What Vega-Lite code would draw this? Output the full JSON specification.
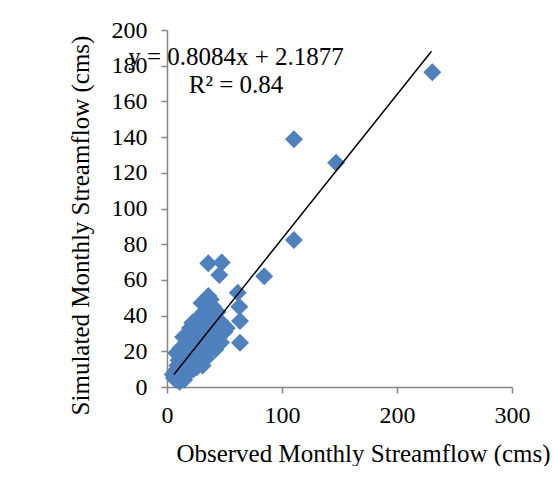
{
  "$schema": "https://vega.github.io/schema/vega-lite/v6.json",
  "width": 345,
  "height": 357,
  "padding": {"left": 68, "top": 18, "right": 0, "bottom": 0},
  "background": "white",
  "config": {
    "view": {"stroke": null},
    "font": "Liberation Serif",
    "axis": {
      "grid": false,
      "domainColor": "#868686",
      "tickColor": "#868686",
      "domainWidth": 1.5,
      "tickWidth": 1.5,
      "tickSize": 6,
      "labelFont": "Liberation Serif",
      "labelFontSize": 24,
      "labelColor": "#000000",
      "titleFont": "Liberation Serif",
      "titleFontSize": 25,
      "titleFontWeight": "normal",
      "titleColor": "#000000"
    }
  },
  "datasets": {
    "points": [
      {"obs": 230.7, "sim": 176.3}, {"obs": 110.4, "sim": 138.8}, {"obs": 147, "sim": 125.7},
      {"obs": 110.4, "sim": 82.4}, {"obs": 84.5, "sim": 62}, {"obs": 35.9, "sim": 69.3},
      {"obs": 47.6, "sim": 69.8}, {"obs": 45.5, "sim": 62.7}, {"obs": 61.5, "sim": 52.8},
      {"obs": 62.9, "sim": 45}, {"obs": 63.5, "sim": 37}, {"obs": 63.5, "sim": 24.8},
      {"obs": 5, "sim": 7}, {"obs": 6, "sim": 5}, {"obs": 7, "sim": 9}, {"obs": 8, "sim": 4},
      {"obs": 8, "sim": 19}, {"obs": 9, "sim": 12}, {"obs": 9, "sim": 7}, {"obs": 10, "sim": 5},
      {"obs": 10, "sim": 15}, {"obs": 11, "sim": 3}, {"obs": 11, "sim": 9}, {"obs": 12, "sim": 17},
      {"obs": 12, "sim": 11}, {"obs": 13, "sim": 6}, {"obs": 13, "sim": 21}, {"obs": 14, "sim": 13},
      {"obs": 14, "sim": 8}, {"obs": 15, "sim": 18}, {"obs": 15, "sim": 4}, {"obs": 16, "sim": 24},
      {"obs": 16, "sim": 11}, {"obs": 17, "sim": 15}, {"obs": 17, "sim": 7}, {"obs": 18, "sim": 29},
      {"obs": 18, "sim": 19}, {"obs": 19, "sim": 12}, {"obs": 19, "sim": 22}, {"obs": 20, "sim": 9},
      {"obs": 20, "sim": 33}, {"obs": 21, "sim": 17}, {"obs": 21, "sim": 26}, {"obs": 22, "sim": 13},
      {"obs": 22, "sim": 30}, {"obs": 23, "sim": 20}, {"obs": 23, "sim": 10}, {"obs": 24, "sim": 35},
      {"obs": 24, "sim": 24}, {"obs": 25, "sim": 15}, {"obs": 25, "sim": 28}, {"obs": 26, "sim": 11},
      {"obs": 26, "sim": 32}, {"obs": 27, "sim": 19}, {"obs": 27, "sim": 37}, {"obs": 28, "sim": 23},
      {"obs": 28, "sim": 14}, {"obs": 29, "sim": 30}, {"obs": 29, "sim": 40}, {"obs": 30, "sim": 17},
      {"obs": 30, "sim": 26}, {"obs": 31, "sim": 34}, {"obs": 31, "sim": 12}, {"obs": 32, "sim": 21},
      {"obs": 32, "sim": 42}, {"obs": 33, "sim": 29}, {"obs": 33, "sim": 38}, {"obs": 34, "sim": 48},
      {"obs": 34, "sim": 16}, {"obs": 35, "sim": 25}, {"obs": 35, "sim": 33}, {"obs": 36, "sim": 44},
      {"obs": 36, "sim": 20}, {"obs": 37, "sim": 36}, {"obs": 37, "sim": 29}, {"obs": 38, "sim": 49},
      {"obs": 38, "sim": 41}, {"obs": 39, "sim": 23}, {"obs": 40, "sim": 32}, {"obs": 40, "sim": 45},
      {"obs": 41, "sim": 38}, {"obs": 42, "sim": 27}, {"obs": 42, "sim": 21}, {"obs": 43, "sim": 35},
      {"obs": 44, "sim": 42}, {"obs": 45, "sim": 30}, {"obs": 46, "sim": 37}, {"obs": 47, "sim": 25},
      {"obs": 48, "sim": 34}, {"obs": 50, "sim": 31}, {"obs": 52, "sim": 33}, {"obs": 14, "sim": 28},
      {"obs": 22, "sim": 36}, {"obs": 12, "sim": 22}, {"obs": 30, "sim": 47}, {"obs": 36, "sim": 51}
    ],
    "trend": [{"obs": 6, "sim": 7.04}, {"obs": 230, "sim": 188.12}],
    "labels": [
      {"obs": 60, "sim": 180.4, "text": "y = 0.8084x + 2.1877"},
      {"obs": 60, "sim": 164.7, "text": "R² = 0.84"}
    ]
  },
  "encoding": {
    "x": {
      "field": "obs", "type": "quantitative",
      "scale": {"domain": [0, 300], "nice": false, "zero": true},
      "axis": {
        "values": [0, 100, 200, 300],
        "title": "Observed Monthly Streamflow (cms)",
        "labelOverlap": false,
        "labelFlush": false,
        "labelPadding": 10,
        "titleX": 196,
        "titleY": 74,
        "titleAlign": "center",
        "titleBaseline": "alphabetic",
        "titleAnchor": null
      }
    },
    "y": {
      "field": "sim", "type": "quantitative",
      "scale": {"domain": [0, 200], "nice": false, "zero": true},
      "axis": {
        "values": [0, 20, 40, 60, 80, 100, 120, 140, 160, 180, 200],
        "tickCount": 11,
        "title": "Simulated Monthly Streamflow (cms)",
        "labelOverlap": false,
        "labelFlush": false,
        "labelBound": false,
        "labelPadding": 14,
        "titlePadding": 18,
        "titleY": 195
      }
    }
  },
  "layer": [
    {
      "data": {"name": "points"},
      "mark": {"type": "point", "shape": "diamond", "filled": true, "size": 324, "color": "#4F81BD", "opacity": 1}
    },
    {
      "data": {"name": "trend"},
      "mark": {"type": "line", "color": "#000000", "strokeWidth": 1.5}
    },
    {
      "data": {"name": "labels"},
      "mark": {"type": "text", "font": "Liberation Serif", "fontSize": 25, "color": "#000000", "baseline": "alphabetic", "align": "center"},
      "encoding": {
        "text": {"field": "text"}
      }
    }
  ]
}
